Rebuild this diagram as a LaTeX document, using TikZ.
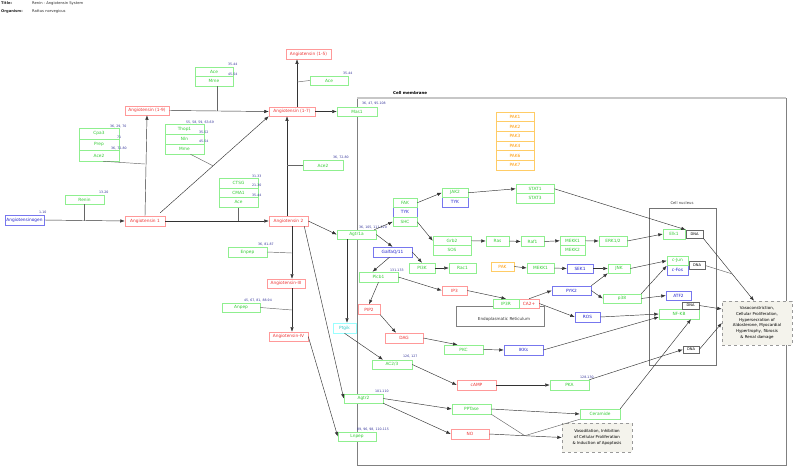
\documentclass[tikz,border=0pt]{standalone}
\usepackage{fontspec}
\setmainfont{DejaVu Sans}
\usetikzlibrary{arrows.meta,calc}
\definecolor{gB}{HTML}{8FEF8F}
\definecolor{gT}{HTML}{33CC33}
\definecolor{rB}{HTML}{FF9999}
\definecolor{rT}{HTML}{EE3333}
\definecolor{bB}{HTML}{7777EE}
\definecolor{bT}{HTML}{2222CC}
\definecolor{oB}{HTML}{FFCC66}
\definecolor{oT}{HTML}{FF9900}
\definecolor{cB}{HTML}{99FFFF}
\definecolor{cT}{HTML}{33CCCC}
\definecolor{lT}{HTML}{333399}
\definecolor{beige}{HTML}{F4F3EC}
\begin{document}
\begin{tikzpicture}[x=1pt,y=-1pt,
 bx/.style={draw, rectangle, inner sep=0pt, font=\fontsize{4.3}{4.8}\selectfont, line width=0.5pt, fill=white},
 gn/.style={bx, draw=gB, text=gT},
 rd/.style={bx, draw=rB, text=rT},
 bl/.style={bx, draw=bB, text=bT},
 og/.style={bx, draw=oB, text=oT},
 cy/.style={bx, draw=cB, text=cT},
 dna/.style={bx, draw=black!60, text=black, font=\fontsize{3.6}{4}\selectfont},
 lab/.style={anchor=west, inner sep=0pt, text=lT, font=\fontsize{3.2}{3.6}\selectfont},
 arr/.style={draw=black!80, line width=0.45pt, -{Latex[length=4.5pt,width=3.4pt]}},
 ln/.style={draw=black!60, line width=0.45pt},
 sz/.style 2 args={minimum width=#1pt, minimum height=#2pt},
 ttl/.style={anchor=west, inner sep=0pt, text=black!85, font=\fontsize{3.7}{4}\selectfont}
]
\useasboundingbox (0,0) rectangle (800,472);
% title
\node[ttl, font=\fontsize{3.7}{4}\selectfont\bfseries] (tt1) at (1,3.5) {Title:};
\node[ttl] (tt2) at (32,3.5) {Renin - Angiotensin System};
\node[ttl, font=\fontsize{3.7}{4}\selectfont\bfseries] (tt3) at (1,11.5) {Organism:};
\node[ttl] (tt4) at (32,11.5) {Rattus norvegicus};
% compartments
\draw[black!50, line width=0.5pt] (357,98) rectangle (786,465);
\draw[black!22, line width=1.3pt] (357,98) -- (786,98);
\node[anchor=west, inner sep=0pt, font=\fontsize{4}{4.5}\selectfont\bfseries] (cm) at (393,93) {Cell membrane};
\draw[black!55, line width=0.5pt] (649,208) rectangle (716,365);
\node[inner sep=0pt, text=black!75, font=\fontsize{3.8}{4.2}\selectfont] (cn) at (682,203) {Cell nucleus};
\draw[black!50, line width=0.6pt] (456,306) rectangle (544,326);
\node[inner sep=0pt, text=black!80, font=\fontsize{4.1}{4.5}\selectfont] (er) at (504,319) {Endoplasmatic Reticulum};
% phenotype boxes
\node[draw=black!40, dashed, fill=beige, sz={70}{29}, inner sep=0pt, align=center, font=\fontsize{4}{5.7}\selectfont] (vd) at (597,437.5) {Vasodilation, Inhibition\\of Cellular Proliferation\\\& Induction of Apoptosis};
\node[draw=black!40, dashed, fill=beige, sz={70}{44}, inner sep=0pt, align=center, font=\fontsize{4}{5.7}\selectfont] (vc) at (757,323) {Vasoconstriction,\\Cellular Proliferation,\\Hypersecration of\\Aldosterone, Myocardial\\Hypertrophy, fibrosis\\\& Renal damage};
% red
\node[rd, sz={44}{9}] (a19) at (147,110.5) {Angiotensin (1-9)};
\node[rd, sz={46}{9}] (a17) at (292,111.5) {Angiotensin (1-7)};
\node[rd, sz={45}{10}] (a15) at (308.5,54) {Angiotensin (1-5)};
\node[rd, sz={40}{10}] (a1) at (145,221) {Angiotensin 1};
\node[rd, sz={39}{10}] (a2) at (288.5,221) {Angiotensin 2};
\node[rd, sz={38}{9}] (a3) at (286,283.5) {Angiotensin-III};
\node[rd, sz={39}{9}] (a4) at (288.5,336.5) {Angiotensin-IV};
\node[rd, sz={22}{10}] (pip2) at (369,309.5) {PIP2};
\node[rd, sz={38}{10}] (dag) at (404,338) {DAG};
\node[rd, sz={25}{9}] (ip3) at (454.5,290.5) {IP3};
\node[rd, sz={20}{9}] (ca) at (529,303.5) {CA2+};
\node[rd, sz={39}{10}] (camp) at (476.5,385) {cAMP};
\node[rd, sz={38}{10}] (no) at (470,434) {NO};
% blue
\node[bl, sz={39}{10}] (agen) at (24.5,220) {Angiotensinogen};
\node[bl, sz={24}{9.5}] (tyk1) at (405,212.25) {TYK};
\node[bl, sz={39}{10}] (galfa) at (392.5,252) {GalfaQ/11};
\node[bl, sz={26}{9.5}] (tyk2) at (455,202.25) {TYK};
\node[bl, sz={26}{9}] (sek1) at (580,268.5) {SEK1};
\node[bl, sz={21}{9.5}] (cfos) at (677.5,270.25) {c-Fos};
\node[bl, sz={25}{9}] (atf2) at (678.5,295.5) {ATF2};
\node[bl, sz={39}{9}] (pyk2) at (571.5,290.5) {PYK2};
\node[bl, sz={25}{10}] (ros) at (587.5,317) {ROS};
\node[bl, sz={39}{10}] (ikks) at (523.5,350) {IKKs};
% green
\node[gn, sz={38}{9.5}] (aceA) at (214,71.75) {Ace};
\node[gn, sz={38}{9.5}] (mmeA) at (214,81.25) {Mme};
\node[gn, sz={38}{9}] (aceB) at (329,80.5) {Ace};
\node[gn, sz={40}{9}] (mas1) at (357,111.5) {Mas1};
\node[gn, sz={40}{11}] (cpa3) at (99,133.5) {Cpa3};
\node[gn, sz={40}{11}] (prep) at (99,144.5) {Prep};
\node[gn, sz={40}{11}] (ace2a) at (99,155.5) {Ace2};
\node[gn, sz={39}{10}] (thop1) at (184.5,129) {Thop1};
\node[gn, sz={39}{10}] (nln) at (184.5,139) {Nln};
\node[gn, sz={39}{10}] (mmeB) at (184.5,149) {Mme};
\node[gn, sz={39}{9}] (renin) at (84.5,199.5) {Renin};
\node[gn, sz={40}{10}] (ace2b) at (323,165.5) {Ace2};
\node[gn, sz={39}{9.7}] (ctsg) at (238.5,183) {CTSG};
\node[gn, sz={39}{9.7}] (cma1) at (238.5,192.7) {CMA1};
\node[gn, sz={39}{9.7}] (aceC) at (238.5,202.4) {Ace};
\node[gn, sz={39}{10}] (enpep) at (247.5,252) {Enpep};
\node[gn, sz={38}{9}] (anpep) at (241,307.5) {Anpep};
\node[gn, sz={39}{9}] (agtr1a) at (356.5,234.5) {Agtr1a};
\node[gn, sz={24}{9.5}] (fak) at (405,202.75) {FAK};
\node[gn, sz={24}{9.5}] (shc) at (405,221.75) {SHC};
\node[gn, sz={39}{10}] (plcb1) at (378.5,277) {Plcb1};
\node[gn, sz={40}{9}] (ac23) at (392,364.5) {AC2/3};
\node[gn, sz={39}{9}] (agtr2) at (363.5,398.5) {Agtr2};
\node[gn, sz={38}{9}] (lnpep) at (357,436.5) {Lnpep};
\node[gn, sz={26}{9.5}] (jak2) at (455,192.75) {JAK2};
\node[gn, sz={38}{9.5}] (stat1) at (535,188.75) {STAT1};
\node[gn, sz={38}{9.5}] (stat3) at (535,198.25) {STAT3};
\node[gn, sz={38}{9.5}] (grb2) at (452,240.75) {Grb2};
\node[gn, sz={38}{9.5}] (sos) at (452,250.25) {SOS};
\node[gn, sz={23}{10}] (ras) at (497.5,241) {Ras};
\node[gn, sz={23}{10}] (raf1) at (532.5,241.5) {Raf1};
\node[gn, sz={25}{9.5}] (mek1) at (572.5,240.75) {MEKK1};
\node[gn, sz={25}{9.5}] (mek2) at (572.5,250.25) {MEKK2};
\node[gn, sz={28}{10}] (erk) at (613,241) {ERK1/2};
\node[gn, sz={22}{10}] (elk1) at (674,234) {Elk1};
\node[gn, sz={26}{10}] (pi3k) at (422,268) {PI3K};
\node[gn, sz={27}{10}] (rac1) at (462.5,268) {Rac1};
\node[gn, sz={27}{10}] (mekk1) at (540.5,268) {MEKK1};
\node[gn, sz={22}{9}] (jnk) at (619,268.5) {JNK};
\node[gn, sz={21}{9.5}] (cjun) at (677.5,260.75) {c-Jun};
\node[gn, sz={38}{9}] (p38) at (622,298.5) {p38};
\node[gn, sz={40}{10}] (nfkb) at (679,314) {NF-KB};
\node[gn, sz={26}{9}] (ip3r) at (506,303.5) {IP3R};
\node[gn, sz={39}{9}] (pkc) at (463.5,349.5) {PKC};
\node[gn, sz={39}{10}] (pka) at (569.5,385) {PKA};
\node[gn, sz={39}{10}] (pptase) at (471.5,409) {PPTase};
\node[gn, sz={40}{10}] (ceram) at (600,414) {Ceramide};
% orange
\node[og, sz={38}{9.67}] (pak1) at (515,116.8) {PAK1};
\node[og, sz={38}{9.67}] (pak2) at (515,126.5) {PAK2};
\node[og, sz={38}{9.67}] (pak3) at (515,136.2) {PAK3};
\node[og, sz={38}{9.67}] (pak4) at (515,145.8) {PAK4};
\node[og, sz={38}{9.67}] (pak6) at (515,155.5) {PAK6};
\node[og, sz={38}{9.67}] (pak7) at (515,165.2) {PAK7};
\node[og, sz={23}{9}] (pak) at (502.5,266.5) {PAK};
% cyan
\node[cy, sz={23}{10}] (ptgik) at (344.5,328) {Ptgik};
% DNA
\node[dna, sz={17}{8}] (dna1) at (694.5,234) {DNA};
\node[dna, sz={16}{8}] (dna2) at (697,265.5) {DNA};
\node[dna, sz={17}{7}] (dna3) at (690.5,305.5) {DNA};
\node[dna, sz={16}{7}] (dna4) at (691,349.5) {DNA};
% labels
\node[lab] (l1) at (228,64) {35-44};
\node[lab] (l2) at (228,74) {45-54};
\node[lab] (l3) at (343,73) {35-44};
\node[lab] (l4) at (362,103) {36, 47, 95-108};
\node[lab] (l5) at (110,126) {36, 29, 70};
\node[lab] (l6) at (117,137) {71};
\node[lab] (l7) at (111,148) {36, 72-80};
\node[lab] (l8) at (186,122) {55, 58, 59, 63-69};
\node[lab] (l9) at (199,132) {35-52};
\node[lab] (l10) at (199,141) {45-54};
\node[lab] (l11) at (99,192) {13-20};
\node[lab] (l12) at (39,212) {1-10};
\node[lab] (l13) at (333,157) {36, 72-80};
\node[lab] (l14) at (252,176) {31-33};
\node[lab] (l15) at (252,185.5) {21-30};
\node[lab] (l16) at (252,195) {35-44};
\node[lab] (l17) at (258,244) {36, 81-87};
\node[lab] (l18) at (244,300) {45, 67, 81, 88-94};
\node[lab] (l19) at (359,227) {36, 105, 111-120};
\node[lab] (l20) at (390,270) {131-133};
\node[lab] (l21) at (403,356) {126, 127};
\node[lab] (l22) at (375,391) {101-110};
\node[lab] (l23) at (357,429) {89, 96, 98, 110-115};
\node[lab] (l24) at (580,377) {128-130};
% connectors
\draw[arr] (a19.east) -- (a17.west);
\coordinate (j1) at (217.5,111);
\draw[ln] (mmeA.south -| j1) -- (j1);
\draw[arr] (a1.north) -- (a19.south);
\coordinate (j2) at (145,164);
\draw[ln] ([xshift=4pt]ace2a.south) -- (j2);
\draw[arr] ([shift={(-5pt,3pt)}]a1.north east) -- (a17.south west);
\coordinate (j3) at (213,165.8);
\draw[ln] ([xshift=6pt]mmeB.south) -- (j3);
\draw[arr] ([xshift=5pt]a17.north) -- ([xshift=5pt]a17.north |- a15.south);
\coordinate (j4) at (297,82);
\draw[ln] (aceB.west) -- (j4);
\draw[arr] (a17.east) -- (mas1.west);
\draw[arr] ([xshift=-1.5pt]a2.north) -- ([xshift=-1.5pt]a2.north |- a17.south);
\coordinate (j5) at (287,165.5);
\draw[ln] (ace2b.west) -- (j5);
\draw[arr] (agen.east) -- (a1.west);
\coordinate (j6) at (84.5,220.5);
\draw[ln] (renin.south) -- (j6);
\draw[arr] (a1.east) -- (a2.west);
\coordinate (j7) at (238.5,221);
\draw[ln] (aceC.south) -- (j7);
\draw[arr] (a2.east) -- (agtr1a.west);
\draw[arr] ([xshift=3.5pt]a2.south) -- ([xshift=3.5pt]a2.south |- a3.north);
\coordinate (j8) at (292,253);
\draw[ln] (enpep.east) -- (j8);
\draw[arr] ([xshift=6pt]a3.south) -- ([xshift=6pt]a3.south |- a4.north);
\coordinate (j9) at (292,310);
\draw[ln] (anpep.east) -- (j9);
\draw[arr] ([xshift=-4pt]a2.south east) -- (agtr2.west);
\draw[arr] (a4.east) -- (lnpep.west);
\draw[arr] ([xshift=-9.5pt]agtr1a.south) -- ([xshift=-9.5pt]agtr1a.south |- ptgik.north);
\draw[arr] ([xshift=-2pt]agtr1a.north east) -- (shc.west);
\draw[arr] (agtr1a.east) -- (galfa.north);
\draw[arr] ([xshift=-3pt]galfa.south) -- ([xshift=-6pt]plcb1.north);
\draw[arr] (galfa.east) -- (pi3k.north);
\draw[arr] (plcb1.south) -- (pip2.north);
\draw[arr] (pip2.south east) -- ([xshift=-8pt]dag.north);
\draw[arr] (plcb1.east) -- (ip3.west);
\draw[arr] (ptgik.south) -- ([xshift=-9pt]ac23.north);
\draw[arr] (fak.east) -- (jak2.west);
\draw[arr] (jak2.east) -- (stat1.west);
\draw[arr] (stat1.east) -- (dna1.north west);
\draw[arr] (shc.east) -- (grb2.west);
\draw[arr] (grb2.east) -- (ras.west);
\draw[arr] (ras.east) -- (raf1.west);
\draw[arr] (raf1.east) -- (mek1.west);
\draw[arr] (mek1.east) -- (erk.west);
\draw[arr] (erk.east) -- (elk1.west);
\draw[arr] (pi3k.east) -- (rac1.west);
\draw[arr] (pak.east) -- (mekk1.west);
\draw[arr] (mekk1.east) -- (sek1.west);
\draw[arr] (sek1.east) -- (jnk.west);
\draw[arr] (jnk.east) -- (cjun.west);
\draw[arr] (p38.north east) -- (cjun.south west);
\draw[arr] (p38.east) -- (atf2.west);
\draw[arr] (ip3.east) -- (ip3r.north);
\draw[arr] (ca.north) -- (pyk2.west);
\draw[arr] (ca.east) -- (ros.west);
\draw[arr] (pyk2.north east) -- (jnk.south west);
\draw[arr] (pyk2.east) -- (p38.west);
\draw[arr] (ros.east) -- (nfkb.west);
\draw[arr] (ikks.east) -- ([yshift=-3pt]nfkb.west);
\draw[arr] (dag.east) -- ([xshift=-6pt]pkc.north);
\draw[arr] (pkc.east) -- (ikks.west);
\draw[arr] (ac23.east) -- (camp.west);
\draw[arr] (camp.east) -- (pka.west);
\draw[arr] (pka.north east) -- (dna4.west);
\draw[arr] (dna4.east) -- (vc.west);
\draw[arr] (dna1.south east) -- coordinate[pos=0.57] (j10) ([xshift=-3pt]vc.north);
\draw[ln] (dna2.east) -- (j10);
\draw[arr] (dna3.east) -- ([yshift=14pt]vc.west);
\draw[arr] (agtr2.east) -- (pptase.west);
\draw[arr] (agtr2.south east) -- (no.west);
\draw[arr] (pptase.east) -- (ceram.west);
\draw[arr] (no.east) -- coordinate[pos=0.49] (j11) (vd.west);
\draw[ln] (pptase.south east) -- (j11);
\draw[ln] (ceram.south west) -- (j11);
\draw[arr] (ceram.north east) -- ([xshift=12pt]nfkb.south);
\end{tikzpicture}
\end{document}
